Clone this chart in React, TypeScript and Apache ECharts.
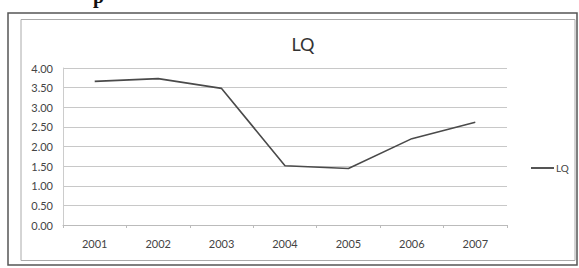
import React, { useEffect, useRef } from "react";
import * as echarts from "echarts";

const years = ["2001", "2002", "2003", "2004", "2005", "2006", "2007"];
const lqValues = [3.66, 3.73, 3.48, 1.51, 1.44, 2.2, 2.62];
const seriesName = "LQ";
const chartTitle = "LQ";

export default function App() {
  const ref = useRef<HTMLDivElement>(null);
  useEffect(() => {
    const chart = echarts.init(ref.current!, undefined, { renderer: "svg" });
    const font = "Lato, 'Open Sans', sans-serif";
    chart.setOption({
      animation: false,
      backgroundColor: "#ffffff",
      title: {
        text: chartTitle,
        left: 298,
        top: 30,
        textAlign: "center",
        textStyle: { fontFamily: font, fontSize: 18, fontWeight: "normal", color: "#333" },
      },
      legend: {
        left: 526,
        top: 158,
        icon: "rect",
        itemWidth: 23,
        itemHeight: 2,
        itemGap: 4,
        textStyle: { fontFamily: font, fontSize: 10, color: "#444", padding: [0, 0, 0, -3] },
        data: [seriesName],
      },
      grid: { left: 63, right: 72, top: 68, bottom: 43, containLabel: false },
      xAxis: {
        type: "category",
        data: years,
        boundaryGap: true,
        axisLine: { lineStyle: { color: "#bbb", width: 1 } },
        axisTick: { show: true, length: 3, lineStyle: { color: "#bbb" } },
        axisLabel: { fontFamily: font, fontSize: 11, color: "#444", margin: 13 },
      },
      yAxis: {
        type: "value",
        min: 0,
        max: 4,
        interval: 0.5,
        axisLine: { show: true, lineStyle: { color: "#ccc", width: 1 } },
        axisTick: { show: false },
        axisLabel: {
          fontFamily: font,
          fontSize: 11,
          color: "#444",
          margin: 10,
          formatter: (v: number) => v.toFixed(2),
        },
        splitLine: { lineStyle: { color: "#c8c8c8", width: 1 } },
      },
      series: [
        {
          name: seriesName,
          type: "line",
          data: lqValues,
          symbol: "none",
          lineStyle: { color: "#4a4a4a", width: 1.6 },
          itemStyle: { color: "#555" },
        },
      ],
      graphic: [
        {
          type: "rect",
          shape: { x: 8, y: 13, width: 569, height: 252 },
          style: { fill: "none", stroke: "#555", lineWidth: 1.5 },
          silent: true,
        },
        {
          type: "rect",
          shape: { x: 21, y: 19.5, width: 554, height: 241 },
          style: { fill: "none", stroke: "#aaa", lineWidth: 1 },
          silent: true,
        },
        {
          type: "text",
          x: 93,
          y: 6,
          style: {
            text: "p",
            fontFamily: "'Liberation Serif', serif",
            fontSize: 20,
            fontWeight: "bold",
            fill: "#111",
            verticalAlign: "bottom",
          },
          silent: true,
        },
      ],
    });
    return () => chart.dispose();
  }, []);
  return (
    <div
      ref={ref}
      style={{ position: "fixed", left: 0, top: 0, width: 579, height: 268 }}
    />
  );
}
